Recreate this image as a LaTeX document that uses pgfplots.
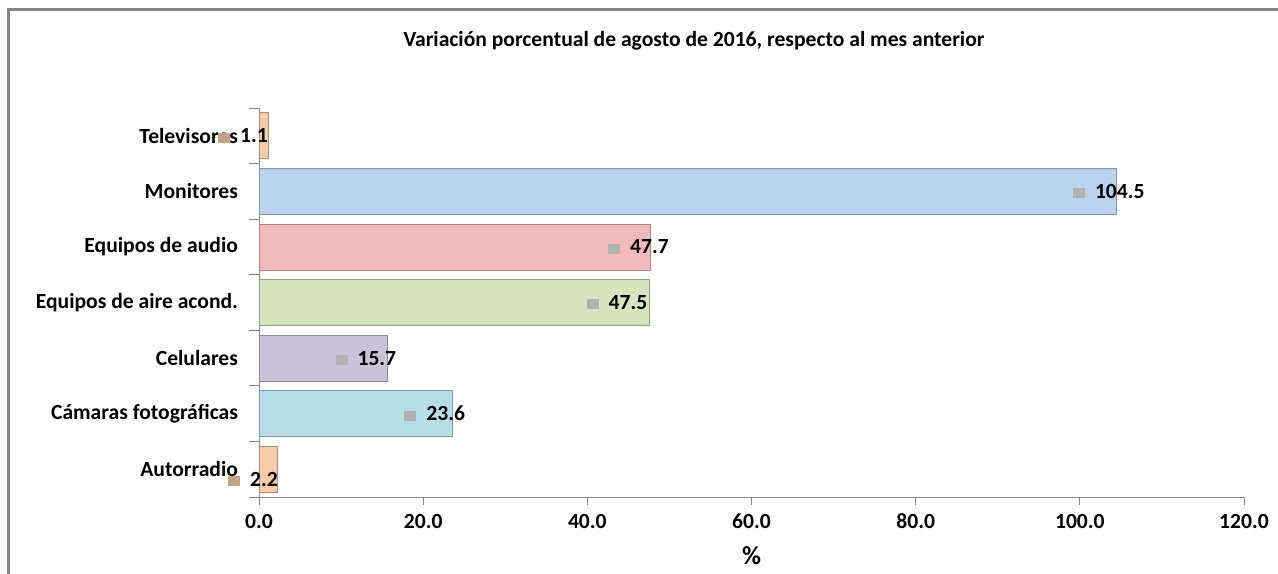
\documentclass[border=0pt]{standalone}
\usepackage{pgfplots}
\pgfplotsset{compat=1.18}
\usepackage{fontspec}
\setmainfont{Carlito}

\definecolor{cPeach}{RGB}{245,205,170}
\definecolor{cBlue}{RGB}{185,210,238}
\definecolor{cPink}{RGB}{242,186,186}
\definecolor{cGreen}{RGB}{215,228,189}
\definecolor{cLav}{RGB}{204,193,218}
\definecolor{cCyan}{RGB}{183,222,232}
\definecolor{axgray}{RGB}{134,134,134}

\pgfplotsset{
  lbl/.style n args={3}{
    nodes near coords={{\color{#1}\rule{6pt}{5pt}}\hspace{5pt}\pgfmathprintnumber[fixed,zerofill,precision=1]{\pgfplotspointmeta}},
    every node near coord/.append style={anchor=center,xshift=#2,yshift=#3,font=\bfseries\fontsize{10.8}{12}\selectfont,inner sep=0pt},
  },
}

\begin{document}
\begin{tikzpicture}
\useasboundingbox (0,0) rectangle (639pt,-286.5pt);
\draw[axgray,line width=1.5pt] (4pt,-290pt) -- (4pt,-4.75pt) -- (645pt,-4.75pt);
\node[font=\bfseries\fontsize{10.8}{12}\selectfont] at (347pt,-20.5pt) {Variación porcentual de agosto de 2016, respecto al mes anterior};
\begin{axis}[
  at={(129.5pt,-248.5pt)}, anchor=south west,
  scale only axis,
  width=492.5pt, height=194.5pt,
  xmin=0, xmax=120,
  ymin=-0.5, ymax=6.5,
  xbar, bar shift=0pt, bar width=23pt,
  axis x line*=bottom, axis y line*=left,
  axis line style={axgray,-},
  xtick={0,20,...,120},
  ytick={0,...,6},
  yticklabels={Autorradio,Cámaras fotográficas,Celulares,Equipos de aire acond.,Equipos de audio,Monitores,Televisores},
  minor ytick={-0.5,0.5,...,6.5},
  major tick length=0pt, minor tick length=5pt,
  every tick/.style={axgray},
  tick align=outside,
  extra x ticks={0,20,...,120}, extra x tick labels={},
  extra x tick style={major tick length=4pt, tick align=outside},
  xticklabel={\pgfmathprintnumber[fixed,zerofill,precision=1]{\tick}},
  /pgf/number format/assume math mode=true,
  ticklabel style={font=\bfseries\fontsize{10.8}{12}\selectfont},
  yticklabel style={xshift=-7pt},
  xticklabel style={yshift=-5pt},
  xlabel={\%},
  xlabel style={font=\bfseries\fontsize{13}{14}\selectfont, yshift=2pt},
  clip=false,
]
\addplot[fill=cPeach, draw=cPeach!70!black, lbl={cPeach!80!black}{-12pt}{-5pt}] coordinates {(2.2,0)};
\addplot[fill=cCyan, draw=cCyan!70!black, lbl={gray!60}{-9pt}{0pt}] coordinates {(23.6,1)};
\addplot[fill=cLav, draw=cLav!70!black, lbl={gray!60}{-11pt}{0pt}] coordinates {(15.7,2)};
\addplot[fill=cGreen, draw=cGreen!70!black, lbl={gray!60}{-16pt}{0pt}] coordinates {(47.5,3)};
\addplot[fill=cPink, draw=cPink!70!black, lbl={gray!60}{-6pt}{0pt}] coordinates {(47.7,4)};
\addplot[fill=cBlue, draw=cBlue!70!black, lbl={gray!60}{-4pt}{0pt}] coordinates {(104.5,5)};
\addplot[fill=cPeach, draw=cPeach!70!black, lbl={cPeach!80!black}{-12.5pt}{0pt}] coordinates {(1.1,6)};
\end{axis}
\end{tikzpicture}
\end{document}
